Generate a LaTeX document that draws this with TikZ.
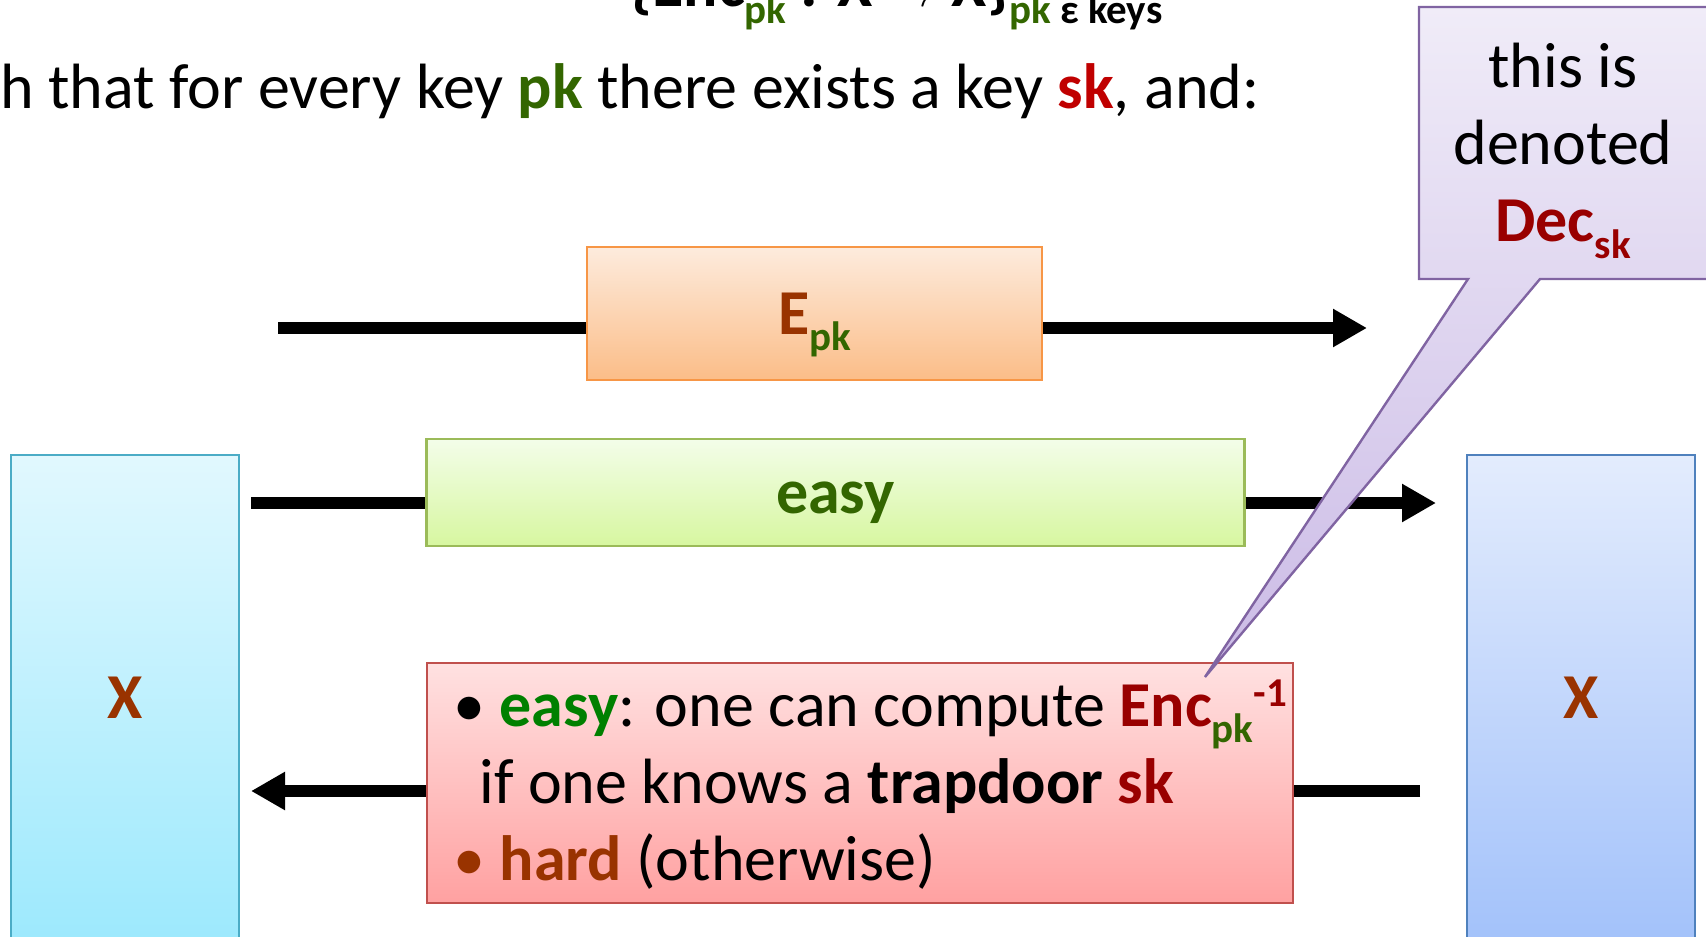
\documentclass[tikz,border=0pt]{standalone}
\usepackage{fontspec}
\setmainfont{Carlito}
\usetikzlibrary{arrows.meta}
\definecolor{brn}{HTML}{993300}
\definecolor{pkg}{HTML}{336600}
\definecolor{eg}{HTML}{008000}
\definecolor{dred}{HTML}{990000}
\definecolor{skred}{HTML}{C00000}
\definecolor{lxtop}{HTML}{E1F8FE}\definecolor{lxbot}{HTML}{9DE9FD}\definecolor{lxb}{HTML}{4BACC6}
\definecolor{rxtop}{HTML}{E3ECFD}\definecolor{rxbot}{HTML}{A3C2FA}\definecolor{rxb}{HTML}{4F81BD}
\definecolor{etop}{HTML}{FDEBDD}\definecolor{ebot}{HTML}{FBBD88}\definecolor{eb}{HTML}{F79646}
\definecolor{gtop}{HTML}{F3FDE9}\definecolor{gbot}{HTML}{D7F7A0}\definecolor{gb}{HTML}{9BBB59}
\definecolor{rtop}{HTML}{FFE1E1}\definecolor{rbot}{HTML}{FFA1A1}\definecolor{rb}{HTML}{C0504D}
\definecolor{ctop}{HTML}{F0ECF8}\definecolor{cbot}{HTML}{CBBBE6}\definecolor{cb}{HTML}{8064A2}
\newcommand\lowsub[2]{\raisebox{-8.3pt}{\fontsize{20.5}{20}\selectfont\textcolor{#1}{#2}}}
\newcommand\highsup[2]{\raisebox{10pt}{\fontsize{20.5}{20}\selectfont\textcolor{#1}{#2}}}
\begin{document}
\begin{tikzpicture}[x=0.5pt,y=-0.5pt,
  every node/.style={font=\fontsize{32}{38.5}\selectfont, inner sep=0pt},
  box/.style={draw, line width=1.2pt, text height=26pt, text depth=5.5pt},
  conn/.style={line width=5.8pt},
  arr/.style={conn, -{Triangle[length=17pt,width=18pt]}},
]
\useasboundingbox (0,0) rectangle (1706,936);
\clip (0,0) rectangle (1706,936);

% header texts
\node[anchor=base west] (title) at (630,7) {\textbf{\{Enc\lowsub{pkg}{pk} : X $\rightarrow$ X\}\lowsub{pkg}{pk~\textcolor{black}{ε keys}}}};
\node[anchor=base west] (line) at (0,109) {h that for every key \textbf{\textcolor{pkg}{pk}} there exists a key \textbf{\textcolor{skred}{sk}}, and:};

% boxes
\node[box, minimum width=114pt, minimum height=243pt, top color=lxtop, bottom color=lxbot, draw=lxb] (Lx) at (125,698) {\textbf{\textcolor{brn}{X}}};
\node[box, minimum width=114pt, minimum height=243pt, top color=rxtop, bottom color=rxbot, draw=rxb] (Rx) at (1581,698) {\textbf{\textcolor{brn}{X}}};
\node[box, minimum width=227.5pt, minimum height=66.5pt, top color=etop, bottom color=ebot, draw=eb] (E) at (814.5,313.5) {\textbf{\textcolor{brn}{E}\lowsub{pkg}{pk}}};
\node[box, minimum width=409pt, minimum height=53.5pt, top color=gtop, bottom color=gbot, draw=gb] (easy) at (835.5,492.5) {\textbf{\textcolor{pkg}{easy}}};
\node[draw=rb, line width=1.2pt, minimum width=433pt, minimum height=120pt, top color=rtop, bottom color=rbot] (red) at (860,783) {};
\node[anchor=base west, align=left] (redtxt) at (453,880) {• \textbf{\textcolor{eg}{easy}}: one can compute \textbf{\textcolor{dred}{Enc}\lowsub{pkg}{pk}\highsup{dred}{-1}}\\
\hspace*{13pt}if one knows a \textbf{trapdoor} \textbf{\textcolor{dred}{sk}}\\
\textcolor{brn}{• \textbf{hard}} (otherwise)};

% connectors
\coordinate (e0) at (278,328);
\coordinate (e1) at (1367,328);
\coordinate (g0) at (251,503);
\coordinate (g1) at (1436,503);
\coordinate (b0) at (1420,791);
\coordinate (b1) at (251,791);
\draw[conn] (e0) -- (e0 -| E.west);
\draw[arr] (e0 -| E.east) -- (e1);
\draw[conn] (g0) -- (g0 -| easy.west);
\draw[arr] (g0 -| easy.east) -- (g1);
\draw[conn] (b0) -- (b0 -| red.east);
\draw[arr] (b0 -| red.west) -- (b1);

% callout
\coordinate (ca) at (1419,7);
\coordinate (cb) at (1720,7);
\coordinate (cc) at (1720,279);
\coordinate (cd) at (1540,279);
\coordinate (tip) at (1205,677);
\coordinate (ce) at (1468,279);
\coordinate (cf) at (1419,279);
\draw[draw=cb, line width=1.2pt, line join=miter, top color=ctop, bottom color=cbot] (ca) -- (cb) -- (cc) -- (cd) -- (tip) -- (ce) -- (cf) -- cycle;
\node[anchor=base, align=center] (note) at (1563,242) {this is\\denoted\\\textbf{\textcolor{dred}{Dec}\lowsub{dred}{sk}}};
\end{tikzpicture}
\end{document}
